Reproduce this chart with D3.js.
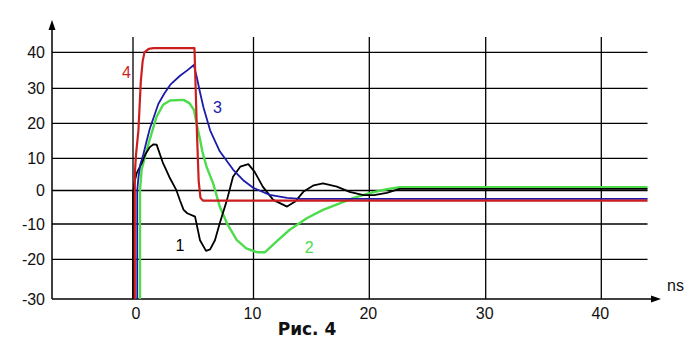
<!DOCTYPE html>
<html><head><meta charset="utf-8">
<script src="https://cdn.jsdelivr.net/npm/d3@7"></script>
<style>body{margin:0;background:#fff}svg{display:block}</style>
</head><body>
<svg id="c" width="698" height="344"></svg>
<script>
// ---- data ----
const xTicks = [0, 10, 20, 30, 40];
const yTicks = [-30, -20, -10, 0, 10, 20, 30, 40];
const xLabel = "ns";
const caption = "Рис. 4";

const curve1 = [[0,-32],[0,-1],[0.1,2.2],[0.3,5.3],[0.45,6.5],[0.72,8.4],[1,11],[1.4,13.2],[1.7,14],[1.96,13.9],[2.5,8.4],[2.8,6],[3.07,3.8],[3.6,0.1],[3.9,-3],[4.2,-5.8],[4.5,-6.8],[5.15,-7.8],[5.56,-14.6],[6.06,-17.6],[6.4,-17.2],[6.8,-14.6],[7.2,-9.8],[7.8,-2.8],[8.3,4.3],[8.9,7.4],[9.57,8.2],[10.1,5.8],[10.8,1.2],[11.7,-2.8],[12.9,-4.8],[13.6,-3.3],[14.3,-0.4],[15.2,1.6],[16,2.2],[17.2,1.2],[18.3,-0.4],[19.5,-1.4],[20.4,-1.4],[21.5,-0.7],[22.6,0.5],[44,0.5]];
const curve2 = [[0.58,-32],[0.58,0],[0.72,6.5],[1,10.5],[1.4,15.5],[1.96,21.9],[2.5,25.3],[3.07,26.5],[4.2,26.7],[4.7,25.7],[5.06,23.8],[5.3,19.5],[5.56,15.5],[5.75,12],[6.1,7.4],[6.65,2.2],[7.2,-4.8],[7.8,-9.8],[8.6,-14.5],[9.4,-16.9],[10.3,-18],[11,-18],[12,-14.9],[13.1,-11.7],[14.6,-8.3],[16,-5.8],[17.5,-3.8],[18.6,-2.3],[20,-0.8],[21.5,0.4],[22.6,1],[44,1]];
const curve3 = [[0.35,-32],[0.35,0],[0.45,4],[0.6,8],[0.85,11],[1.1,14.5],[1.4,18.5],[1.7,21.5],[2.1,25.5],[2.6,28.5],[3.1,31],[3.9,33.5],[4.5,35],[5.05,36.5],[5.3,33],[5.55,29],[5.85,24.5],[6.4,18],[7.2,12],[8.3,6.5],[9.2,3],[10,0.8],[11.4,-1.3],[12.9,-2.2],[14,-2.5],[44,-2.5]];
const curve4 = [[0.15,-32],[0.15,5],[0.25,11],[0.45,18],[0.65,32],[0.8,37.5],[0.95,40],[1.3,41],[1.7,41.2],[5.1,41.2],[5.2,30],[5.3,18],[5.45,3],[5.6,-2.2],[5.8,-3],[44,-3]];

const series = [
  {name:"2", data:curve2, color:"#4cdc4c", width:2.4, label:[14.8,-16.6]},
  {name:"1", data:curve1, color:"#000000", width:1.8, label:[3.9,-16]},
  {name:"3", data:curve3, color:"#1c1ca8", width:1.8, label:[7,24.5]},
  {name:"4", data:curve4, color:"#cc1e1e", width:2.2, label:[-0.55,34.5]}
];

// ---- layout ----
const svg = d3.select("#c");
const x = d3.scaleLinear().domain(xTicks).range([133, 253.5, 369.3, 485.7, 601.3]);
const y = d3.scaleLinear().domain(yTicks).range([299, 259.3, 224, 190.5, 158.3, 123.3, 88.3, 52.4]);
const xLeft = 52, xRight = x(44), yTop = 37, yBot = y(-30);
const font = "'Liberation Sans', Arial, sans-serif";

svg.append("defs").append("clipPath").attr("id","clip")
  .append("rect").attr("x", xLeft).attr("y", 20).attr("width", xRight - xLeft + 2).attr("height", yBot - 20);

const g = svg.append("g");
// horizontal grid
g.selectAll(".hg").data(yTicks.filter(d => d > -30)).join("line")
  .attr("x1", xLeft).attr("x2", xRight).attr("y1", d => y(d)).attr("y2", d => y(d))
  .attr("stroke", "#000").attr("stroke-width", 1.3);
// vertical grid
g.selectAll(".vg").data(xTicks).join("line")
  .attr("x1", d => x(d)).attr("x2", d => x(d)).attr("y1", yTop).attr("y2", yBot)
  .attr("stroke", "#000").attr("stroke-width", 1.3);

// axes
g.append("line").attr("x1", xLeft).attr("x2", xLeft).attr("y1", yBot).attr("y2", 26)
  .attr("stroke", "#000").attr("stroke-width", 1.5);
g.append("path").attr("d", d3.line()([[xLeft, 20],[xLeft-3.5, 30],[xLeft+3.5, 30]]) + "Z").attr("fill", "#000");
g.append("line").attr("x1", xLeft).attr("x2", 656).attr("y1", yBot).attr("y2", yBot)
  .attr("stroke", "#000").attr("stroke-width", 1.5);
g.append("path").attr("d", d3.line()([[661, yBot],[651, yBot-3.5],[651, yBot+3.5]]) + "Z").attr("fill", "#000");

// tick labels
g.selectAll(".yl").data(yTicks).join("text")
  .attr("x", 45).attr("y", d => y(d)).attr("dy", "0.35em")
  .attr("text-anchor", "end").attr("font-family", font).attr("font-size", 16).attr("fill", "#111")
  .text(d => d);
g.selectAll(".xl").data(xTicks).join("text")
  .attr("x", d => x(d) + (d === 0 ? 3 : -1)).attr("y", 319)
  .attr("text-anchor", "middle").attr("font-family", font).attr("font-size", 16).attr("fill", "#111")
  .text(d => d);
g.append("text").attr("x", 667).attr("y", 291).attr("font-family", font).attr("font-size", 16)
  .attr("fill", "#111").text(xLabel);
g.append("text").attr("x", 307).attr("y", 335).attr("text-anchor", "middle")
  .attr("font-family", "'DejaVu Sans', sans-serif").attr("font-weight", "bold").attr("font-size", 17)
  .attr("fill", "#111").text(caption);

// curves
const line = d3.line().x(d => x(d[0])).y(d => y(d[1]));
const cg = svg.append("g").attr("clip-path", "url(#clip)");
cg.selectAll("path").data(series).join("path")
  .attr("d", d => line(d.data)).attr("fill", "none")
  .attr("stroke", d => d.color).attr("stroke-width", d => d.width).attr("stroke-linejoin", "round");

// curve labels
svg.selectAll(".cl").data(series).join("text")
  .attr("x", d => x(d.label[0])).attr("y", d => y(d.label[1])).attr("dy", "0.35em")
  .attr("text-anchor", "middle").attr("font-family", font).attr("font-size", 16)
  .attr("fill", d => d.color).text(d => d.name);
</script>
</body></html>
